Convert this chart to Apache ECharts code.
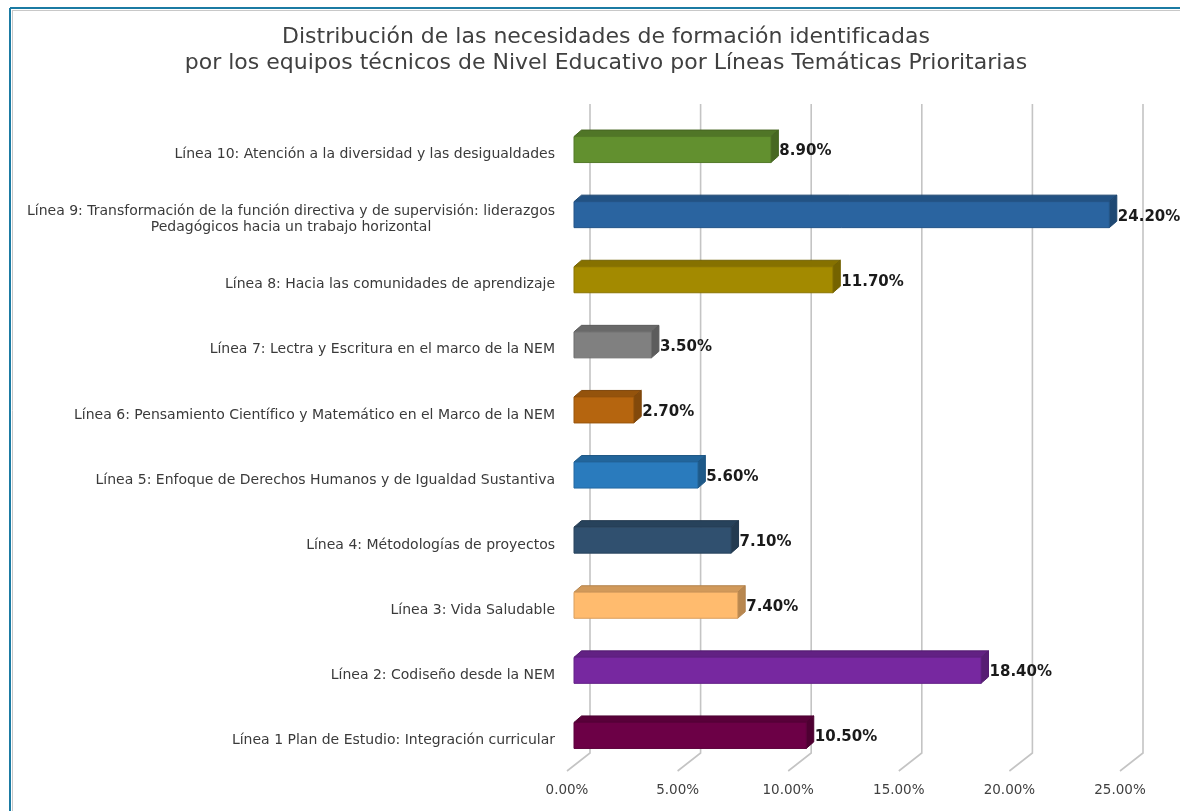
<!DOCTYPE html>
<html lang="es">
<head>
    <meta charset="UTF-8">
    <title>Líneas Temáticas Prioritarias</title>
    <script src="https://cdn.jsdelivr.net/npm/echarts@6/dist/echarts.min.js"></script>
    <style>
        html, body { margin: 0; padding: 0; background: #fff; }
        #main { width: 1180px; height: 811px; }
    </style>
</head>
<body>
<div id="main"></div>
<script>
    // categorias de arriba hacia abajo
    var categories = [
        'Línea 10: Atención a la diversidad y las desigualdades',
        'Línea 9: Transformación de la función directiva y de supervisión: liderazgos\nPedagógicos hacia un trabajo horizontal',
        'Línea 8: Hacia las comunidades de aprendizaje',
        'Línea 7: Lectra y Escritura en el marco de la NEM',
        'Línea 6: Pensamiento Científico y Matemático en el Marco de la NEM',
        'Línea 5: Enfoque de Derechos Humanos y de Igualdad Sustantiva',
        'Línea 4: Métodologías de proyectos',
        'Línea 3: Vida Saludable',
        'Línea 2: Codiseño desde la NEM',
        'Línea 1 Plan de Estudio: Integración curricular'
    ];
    var values = [8.9, 24.2, 11.7, 3.5, 2.7, 5.6, 7.1, 7.4, 18.4, 10.5];
    var barColors = ['#62902f', '#2a64a0', '#a38a00', '#808080', '#b5650f',
                     '#2a7bbd', '#30506f', '#ffbb6e', '#7728a0', '#6c0046'];
    var xTicks = [0, 5, 10, 15, 20, 25];

    var font = '"DejaVu Sans", "Noto Sans", sans-serif';
    var DX = 7.5, DY = -6.5;    // profundidad de la barra
    var GX = 23, GY = -18;      // desplazamiento del plano de fondo

    // oscurecer un color hex
    function darken(hex, f) {
        var n = parseInt(hex.slice(1), 16);
        var r = Math.round(((n >> 16) & 255) * f);
        var g = Math.round(((n >> 8) & 255) * f);
        var b = Math.round((n & 255) * f);
        return 'rgb(' + r + ',' + g + ',' + b + ')';
    }

    var chart = echarts.init(document.getElementById('main'));

    var option = {
        animation: false,
        title: {
            text: 'Distribución de las necesidades de formación identificadas\npor los equipos técnicos de Nivel Educativo por Líneas Temáticas Prioritarias',
            left: 601,
            top: 19,
            textAlign: 'center',
            textStyle: {
                fontFamily: font,
                fontSize: 22,
                fontWeight: 'normal',
                lineHeight: 26,
                color: '#404040'
            }
        },
        graphic: [
            // marco
            { type: 'line', shape: { x1: 10, y1: 8, x2: 1180, y2: 8 }, style: { stroke: '#1b7ba3', lineWidth: 2 } },
            { type: 'line', shape: { x1: 10, y1: 8, x2: 10, y2: 811 }, style: { stroke: '#1b7ba3', lineWidth: 2 } },
            { type: 'line', shape: { x1: 12, y1: 10.5, x2: 1180, y2: 10.5 }, style: { stroke: '#c8c8c8', lineWidth: 1 } },
            { type: 'line', shape: { x1: 12.5, y1: 10, x2: 12.5, y2: 811 }, style: { stroke: '#c8c8c8', lineWidth: 1 } }
        ],
        grid: {
            left: 567,
            right: 60,
            top: 120,
            bottom: 40
        },
        xAxis: {
            type: 'value',
            min: 0,
            max: 25,
            interval: 5,
            axisLine: { show: false },
            axisTick: { show: false },
            splitLine: { show: false },
            axisLabel: {
                margin: 12,
                color: '#404040',
                fontFamily: font,
                fontSize: 13.5,
                formatter: function (v) { return v.toFixed(2) + '%'; }
            }
        },
        yAxis: {
            type: 'category',
            inverse: true,
            data: categories,
            axisLine: { show: false },
            axisTick: { show: false },
            splitLine: { show: false },
            axisLabel: {
                margin: 12,
                padding: [4, 0, 0, 0],
                formatter: function (v) {
                    return v.split('\n').map(function (s) { return '{c|' + s + '}'; }).join('\n');
                },
                rich: {
                    c: {
                        align: 'center',
                        color: '#3a3a3a',
                        fontFamily: font,
                        fontSize: 14,
                        lineHeight: 16
                    }
                }
            }
        },
        series: [
            {
                // lineas de division en perspectiva
                type: 'custom',
                silent: true,
                z: 1,
                data: xTicks.map(function (t) { return [t, 0]; }),
                encode: { x: 0, y: 1 },
                renderItem: function (params, api) {
                    var x = api.coord([api.value(0), 0])[0];
                    var bottom = params.coordSys.y + params.coordSys.height;
                    return {
                        type: 'polyline',
                        shape: { points: [[x + GX, 104], [x + GX, bottom + GY], [x, bottom]] },
                        style: { stroke: '#c4c4c4', lineWidth: 1.6, fill: null }
                    };
                }
            },
            {
                type: 'custom',
                z: 2,
                data: values.map(function (v, i) { return [v, i]; }),
                encode: { x: 0, y: 1 },
                renderItem: function (params, api) {
                    var i = api.value(1);
                    var v = api.value(0);
                    var p0 = api.coord([0, i]);
                    var p1 = api.coord([v, i]);
                    var x0 = p0[0] + 7, x1 = p1[0] + 7;
                    var yt = p0[1] - 3 - 13, yb = p0[1] - 3 + 13;
                    var c = barColors[i];
                    var edge = darken(c, 0.7);
                    return {
                        type: 'group',
                        children: [
                            {
                                type: 'polygon',
                                shape: { points: [[x0, yt], [x1, yt], [x1 + DX, yt + DY], [x0 + DX, yt + DY]] },
                                style: { fill: darken(c, 0.82), stroke: edge, lineWidth: 1 }
                            },
                            {
                                type: 'polygon',
                                shape: { points: [[x1, yt], [x1 + DX, yt + DY], [x1 + DX, yb + DY], [x1, yb]] },
                                style: { fill: darken(c, 0.72), stroke: edge, lineWidth: 1 }
                            },
                            {
                                type: 'rect',
                                shape: { x: x0, y: yt, width: x1 - x0, height: yb - yt },
                                style: { fill: c, stroke: darken(c, 0.85), lineWidth: 1 }
                            },
                            {
                                type: 'text',
                                x: x1 + DX + 1,
                                y: (yt + yb) / 2 + 2,
                                style: {
                                    text: v.toFixed(2) + '%',
                                    fill: '#1a1a1a',
                                    font: 'bold 15px ' + font,
                                    textAlign: 'left',
                                    textVerticalAlign: 'middle'
                                }
                            }
                        ]
                    };
                }
            }
        ]
    };
    chart.setOption(option);
</script>
</body>
</html>
